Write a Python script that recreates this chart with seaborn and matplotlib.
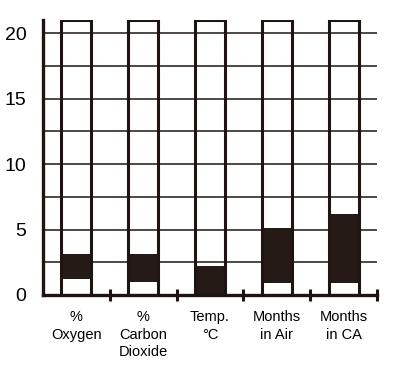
import matplotlib
matplotlib.use("Agg")
import matplotlib.pyplot as plt
import seaborn as sns
import pandas as pd

categories = ["%\nOxygen", "%\nCarbon\nDioxide", "Temp.\n°C", "Months\nin Air", "Months\nin CA"]
range_low = [1.2, 1.0, 0.0, 0.95, 0.95]
range_high = [3.1, 3.1, 2.2, 5.1, 6.2]
full_scale = [21, 21, 21, 21, 21]
y_ticks = [0, 5, 10, 15, 20]
grid_levels = [2.5, 7.5, 12.5, 17.5]

ink = "#1e1513"
fill = "#261a16"

sns.set_theme(style="white")
plt.rcParams["font.family"] = ["Liberation Sans", "DejaVu Sans"]

df = pd.DataFrame({"cat": categories, "low": range_low, "high": range_high, "full": full_scale})

fig = plt.figure(figsize=(4.0, 3.78), dpi=100)
ax = fig.add_axes([0.1075, 0.2196, 0.835, 0.7275])

# black range bars: drawn to the high value, then masked below the low value
sns.barplot(data=df, x="cat", y="high", color=fill, saturation=1, width=0.45,
            errorbar=None, edgecolor=fill, linewidth=0, ax=ax, zorder=2)
sns.barplot(data=df, x="cat", y="low", color="white", saturation=1, width=0.45,
            errorbar=None, edgecolor="white", linewidth=0, ax=ax, zorder=3)
# full-scale outline bars
sns.barplot(data=df, x="cat", y="full", fill=False, width=0.45, errorbar=None,
            edgecolor=ink, linewidth=2.2, ax=ax, zorder=4)
for p in ax.patches[-5:]:
    p.set_facecolor("none")
    p.set_edgecolor(ink)
    p.set_linewidth(2.2)
    p.set_zorder(4)

ax.set_xlim(-0.5, 4.5)
ax.set_ylim(0, 21)
ax.set_yticks(y_ticks)
ax.set_yticks(grid_levels, minor=True)
ax.set_yticklabels([str(v) for v in y_ticks], fontsize=14, color="black")
ax.tick_params(axis="y", which="both", length=0, pad=12)
ax.yaxis.grid(True, which="both", color=ink, linewidth=1.1, zorder=1)
ax.set_axisbelow(True)

ax.set_xticks(range(len(categories)))
ax.set_xticklabels(categories, fontsize=10.5, color="black", linespacing=1.3)
ax.set_xticks([0.5, 1.5, 2.5, 3.5, 4.5], minor=True)
ax.tick_params(axis="x", which="major", length=0, pad=11)
ax.tick_params(axis="x", which="minor", direction="inout", length=8, width=2.2, color=ink, bottom=True)

ax.set_xlabel("")
ax.set_ylabel("")
for s in ["top", "right"]:
    ax.spines[s].set_visible(False)
for s in ["left", "bottom"]:
    ax.spines[s].set_color(ink)
    ax.spines[s].set_linewidth(2.4)
    ax.spines[s].set_zorder(5)

fig.savefig("out.png", dpi=100, facecolor="white")
